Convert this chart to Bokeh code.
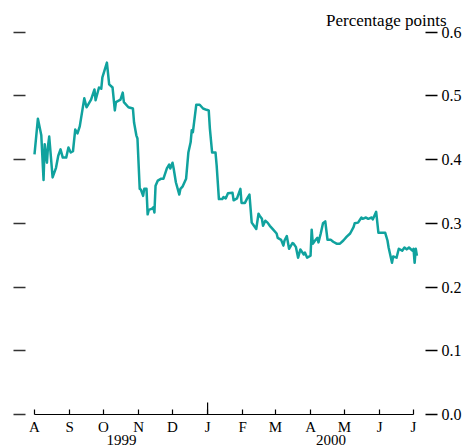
import pandas as pd
from bokeh.plotting import figure
from bokeh.models import Range1d, FixedTicker, LinearAxis, DatetimeAxis, Title, NumeralTickFormatter
from bokeh.embed import file_html
from bokeh.resources import INLINE

# ---------------- data ----------------
dates = [
    "1999-08-01", "1999-08-04", "1999-08-07", "1999-08-09", "1999-08-10", "1999-08-12", "1999-08-13",
    "1999-08-14", "1999-08-17", "1999-08-20", "1999-08-22", "1999-08-24", "1999-08-26", "1999-08-29",
    "1999-08-31", "1999-09-02", "1999-09-04", "1999-09-06", "1999-09-08", "1999-09-10", "1999-09-14",
    "1999-09-16", "1999-09-20", "1999-09-23", "1999-09-24", "1999-09-27", "1999-09-29", "1999-09-30",
    "1999-10-04", "1999-10-06", "1999-10-09", "1999-10-11", "1999-10-12", "1999-10-16", "1999-10-18",
    "1999-10-19", "1999-10-23", "1999-10-27", "1999-10-28", "1999-10-30", "1999-10-31", "1999-11-02",
    "1999-11-03", "1999-11-05", "1999-11-06", "1999-11-08", "1999-11-09", "1999-11-10", "1999-11-13",
    "1999-11-14", "1999-11-15", "1999-11-16", "1999-11-18", "1999-11-21", "1999-11-23", "1999-11-26",
    "1999-11-28", "1999-11-29", "1999-12-01", "1999-12-02", "1999-12-04", "1999-12-07", "1999-12-08",
    "1999-12-10", "1999-12-13", "1999-12-15", "1999-12-17", "1999-12-18", "1999-12-19", "1999-12-22",
    "1999-12-25", "1999-12-28", "1999-12-31", "2000-01-02", "2000-01-03", "2000-01-05", "2000-01-08",
    "2000-01-09", "2000-01-11", "2000-01-14", "2000-01-15", "2000-01-17", "2000-01-19", "2000-01-23",
    "2000-01-24", "2000-01-27", "2000-01-30", "2000-01-31", "2000-02-03", "2000-02-05", "2000-02-07",
    "2000-02-09", "2000-02-11", "2000-02-13", "2000-02-15", "2000-02-16", "2000-02-18", "2000-02-19",
    "2000-02-21", "2000-02-23", "2000-02-25", "2000-02-28", "2000-03-02", "2000-03-03", "2000-03-06",
    "2000-03-08", "2000-03-09", "2000-03-11", "2000-03-13", "2000-03-16", "2000-03-17", "2000-03-19",
    "2000-03-21", "2000-03-23", "2000-03-26", "2000-03-27", "2000-03-29", "2000-04-01", "2000-04-02",
    "2000-04-03", "2000-04-05", "2000-04-07", "2000-04-08", "2000-04-10", "2000-04-12", "2000-04-14",
    "2000-04-16", "2000-04-19", "2000-04-21", "2000-04-24", "2000-04-27", "2000-04-30", "2000-05-03",
    "2000-05-06", "2000-05-09", "2000-05-10", "2000-05-13", "2000-05-16", "2000-05-17", "2000-05-20",
    "2000-05-22", "2000-05-25", "2000-05-26", "2000-05-29", "2000-05-31", "2000-06-03", "2000-06-06",
    "2000-06-08", "2000-06-09", "2000-06-12", "2000-06-13", "2000-06-16", "2000-06-18", "2000-06-21",
    "2000-06-23", "2000-06-25", "2000-06-27", "2000-06-30", "2000-07-01", "2000-07-02", "2000-07-03",
    "2000-07-04",
]
values = [
    0.408, 0.464, 0.438, 0.368, 0.424, 0.395, 0.422,
    0.436, 0.372, 0.387, 0.406, 0.416, 0.403, 0.403,
    0.419, 0.411, 0.413, 0.447, 0.441, 0.452, 0.496,
    0.482, 0.494, 0.510, 0.493, 0.513, 0.511, 0.529,
    0.552, 0.518, 0.513, 0.477, 0.490, 0.494, 0.505,
    0.490, 0.482, 0.480, 0.458, 0.438, 0.433, 0.354,
    0.353, 0.343, 0.354, 0.354, 0.314, 0.321, 0.323,
    0.325, 0.317, 0.359, 0.367, 0.370, 0.370, 0.386,
    0.392, 0.386, 0.395, 0.386, 0.364, 0.345, 0.354,
    0.358, 0.370, 0.411, 0.427, 0.446, 0.443, 0.486,
    0.486, 0.480, 0.478, 0.477, 0.449, 0.411, 0.411,
    0.391, 0.338, 0.338, 0.341, 0.339, 0.347, 0.348,
    0.336, 0.339, 0.354, 0.332, 0.332, 0.339, 0.345,
    0.301, 0.296, 0.291, 0.315, 0.312, 0.307, 0.296,
    0.304, 0.301, 0.296, 0.290, 0.284, 0.277, 0.274,
    0.265, 0.273, 0.280, 0.260, 0.269, 0.268, 0.263,
    0.246, 0.259, 0.251, 0.254, 0.246, 0.249, 0.290,
    0.268, 0.273, 0.277, 0.270, 0.284, 0.300, 0.303,
    0.274, 0.274, 0.271, 0.268, 0.268, 0.273, 0.279,
    0.284, 0.294, 0.300, 0.301, 0.309, 0.307, 0.309,
    0.307, 0.309, 0.306, 0.318, 0.285, 0.285, 0.285,
    0.273, 0.262, 0.238, 0.248, 0.246, 0.260, 0.257,
    0.262, 0.259, 0.262, 0.257, 0.260, 0.238, 0.260,
    0.249,
]

month_ticks = ["1999-08-01", "1999-09-01", "1999-10-01", "1999-11-01", "1999-12-01", "2000-01-01",
               "2000-02-01", "2000-03-01", "2000-04-01", "2000-05-01", "2000-06-01", "2000-07-01"]
month_labels = ["A", "S", "O", "N", "D", "J", "F", "M", "A", "M", "J", "J"]
year_labels = ["1999", "2000"]
year_label_dates = ["1999-10-17", "2000-04-19"]
year_boundary = "2000-01-01"
y_ticks = [0.0, 0.1, 0.2, 0.3, 0.4, 0.5, 0.6]
unit_label = "Percentage points"


def ms(d):
    return int(pd.Timestamp(d).value // 10**6)


FONT = "Liberation Serif"
LINE_COLOR = "#10A29E"

x = pd.to_datetime(dates)
month_ms = [ms(d) for d in month_ticks]
year_ms = [ms(d) for d in year_label_dates]

p = figure(
    width=464, height=447,
    x_axis_type="datetime", y_axis_location="right",
    x_range=Range1d(start=pd.Timestamp("1999-07-24 01:00"), end=pd.Timestamp("2000-07-11 14:30")),
    y_range=Range1d(start=0.0, end=0.604),
    output_backend="svg", toolbar_location=None,
    min_border_left=25, min_border_right=39, min_border_top=29, min_border_bottom=33,
)
p.outline_line_color = None
p.xgrid.visible = False
p.ygrid.visible = False
p.background_fill_color = "white"
p.border_fill_color = "white"

# unit label, top right
t = Title(text=unit_label, align="right", offset=-21, standoff=0,
          text_font=FONT, text_font_size="17px", text_font_style="normal", text_color="black")
p.add_layout(t, "above")

# bottom (month) axis
xa = p.xaxis[0]
xa.ticker = FixedTicker(ticks=month_ms)
xa.major_label_overrides = dict(zip(month_ms, month_labels))
xa.bounds = (month_ms[0], month_ms[-1])
xa.major_tick_in = 5
xa.major_tick_out = 0
xa.major_tick_line_color = "black"
xa.major_tick_line_width = 1.2
xa.minor_tick_line_color = None
xa.axis_line_color = "black"
xa.axis_line_width = 1.2
xa.major_label_standoff = 4
xa.major_label_text_font = FONT
xa.major_label_text_font_size = "15px"
xa.major_label_text_color = "black"

# year labels as a second bottom axis
ya2 = DatetimeAxis(ticker=FixedTicker(ticks=year_ms))
ya2.major_label_overrides = dict(zip(year_ms, year_labels))
ya2.axis_line_color = None
ya2.major_tick_line_color = None
ya2.minor_tick_line_color = None
ya2.major_tick_in = 0
ya2.major_tick_out = 0
ya2.major_label_standoff = -3
ya2.major_label_text_font = FONT
ya2.major_label_text_font_size = "15px"
ya2.major_label_text_color = "black"
p.add_layout(ya2, "below")

# right (value) axis
ya = p.yaxis[0]
ya.ticker = FixedTicker(ticks=y_ticks)
ya.formatter = NumeralTickFormatter(format="0.0")
ya.axis_line_color = None
ya.major_tick_in = 0
ya.major_tick_out = 12
ya.major_tick_line_color = "black"
ya.major_tick_line_width = 1.5
ya.minor_tick_line_color = None
ya.major_label_standoff = 4
ya.major_label_text_font = FONT
ya.major_label_text_font_size = "16px"
ya.major_label_text_color = "black"

# left tick marks (no labels)
la = LinearAxis(ticker=FixedTicker(ticks=y_ticks))
la.axis_line_color = None
la.major_tick_in = 0
la.major_tick_out = 12
la.major_tick_line_color = "#333333"
la.major_tick_line_width = 1.5
la.minor_tick_line_color = None
la.major_label_text_color = None
la.major_label_text_font_size = "1px"
la.major_label_standoff = 0
p.add_layout(la, "left")

# taller year-boundary tick
p.segment(x0=[pd.Timestamp(year_boundary)], y0=[0.0], x1=[pd.Timestamp(year_boundary)], y1=[0.019],
          line_color="black", line_width=1.2)

# the series
p.line(x, values, line_color=LINE_COLOR, line_width=2.5, line_join="round")

open("out.html", "w").write(file_html(p, INLINE))
